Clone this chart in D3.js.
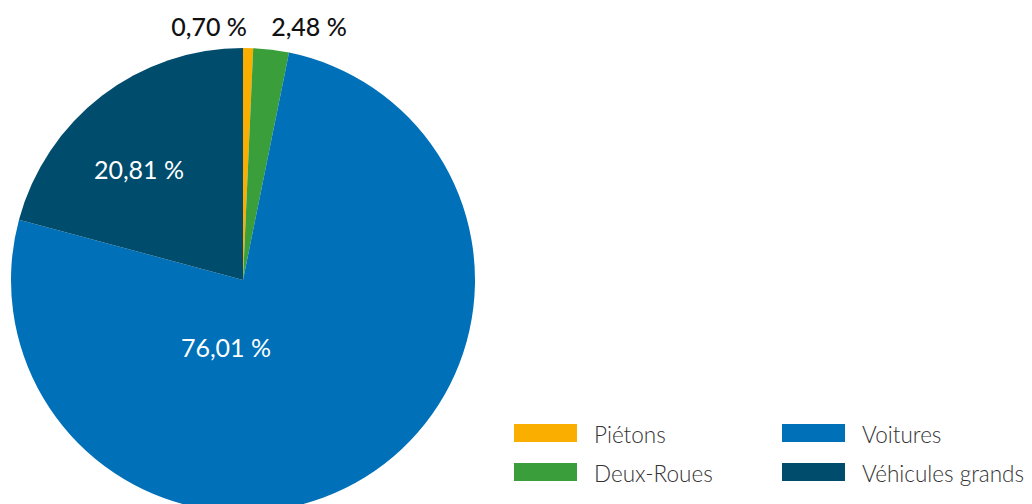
<!DOCTYPE html>
<html>
<head>
<meta charset="utf-8">
<script src="https://cdn.jsdelivr.net/npm/d3@7/dist/d3.min.js"></script>
<style>
  html, body { margin: 0; padding: 0; background: #fff; }
  svg { display: block; font-family: "Lato", "Open Sans", sans-serif; }
</style>
</head>
<body>
<svg id="chart" width="1032" height="504"></svg>
<script>
// Répartition par catégorie d'usager
const categories = ["Piétons", "Deux-Roues", "Voitures", "Véhicules grands"];
const shares = [0.70, 2.48, 76.01, 20.81];
const colors = ["#f9ae00", "#3a9f3a", "#0070b9", "#004c6c"];
const valueLabels = ["0,70 %", "2,48 %", "76,01 %", "20,81 %"];

const svg = d3.select("#chart");
const cx = 243, cy = 280, radius = 232;

const data = categories.map((c, i) => ({ name: c, value: shares[i], color: colors[i], label: valueLabels[i] }));

const pie = d3.pie().value(d => d.value).sort(null);
const arc = d3.arc().innerRadius(0).outerRadius(radius);
const arcs = pie(data);

const g = svg.append("g").attr("transform", `translate(${cx},${cy})`);

g.selectAll("path")
  .data(arcs)
  .join("path")
  .attr("d", arc)
  .attr("fill", d => d.data.color);

// Label placement: small slices get their label above the pie, large ones inside
const labelOffsets = [
  { dx: -34, dy: -254, fill: "#111", outside: true },
  { dx: 66, dy: -254, fill: "#111", outside: true },
  { dx: -17, dy: 67, fill: "#fff" },
  { dx: -104, dy: -111, fill: "#fff" }
];

g.selectAll("text.val")
  .data(arcs)
  .join("text")
  .attr("class", "val")
  .attr("x", (d, i) => labelOffsets[i].dx)
  .attr("y", (d, i) => labelOffsets[i].dy)
  .attr("text-anchor", "middle")
  .attr("dominant-baseline", "central")
  .attr("font-size", 25)
  .attr("font-weight", (d, i) => labelOffsets[i].outside ? 500 : 400)
  .attr("fill", (d, i) => labelOffsets[i].fill)
  .text(d => d.data.label);

// Legend: two columns, two rows
const legend = svg.append("g").attr("transform", "translate(514,424)");
const colX = d3.scaleOrdinal().domain([0, 1]).range([0, 268]);
const rowY = d3.scaleOrdinal().domain([0, 1]).range([0, 39]);

const items = legend.selectAll("g.item")
  .data(data)
  .join("g")
  .attr("class", "item")
  .attr("transform", (d, i) => `translate(${colX(Math.floor(i / 2))},${rowY(i % 2)})`);

items.append("rect")
  .attr("width", 63)
  .attr("height", 18)
  .attr("fill", d => d.color);

items.append("text")
  .attr("x", 80)
  .attr("y", 10)
  .attr("dominant-baseline", "central")
  .attr("font-size", 22.5)
  .attr("font-weight", 300)
  .attr("fill", "#333")
  .text(d => d.name);
</script>
</body>
</html>
